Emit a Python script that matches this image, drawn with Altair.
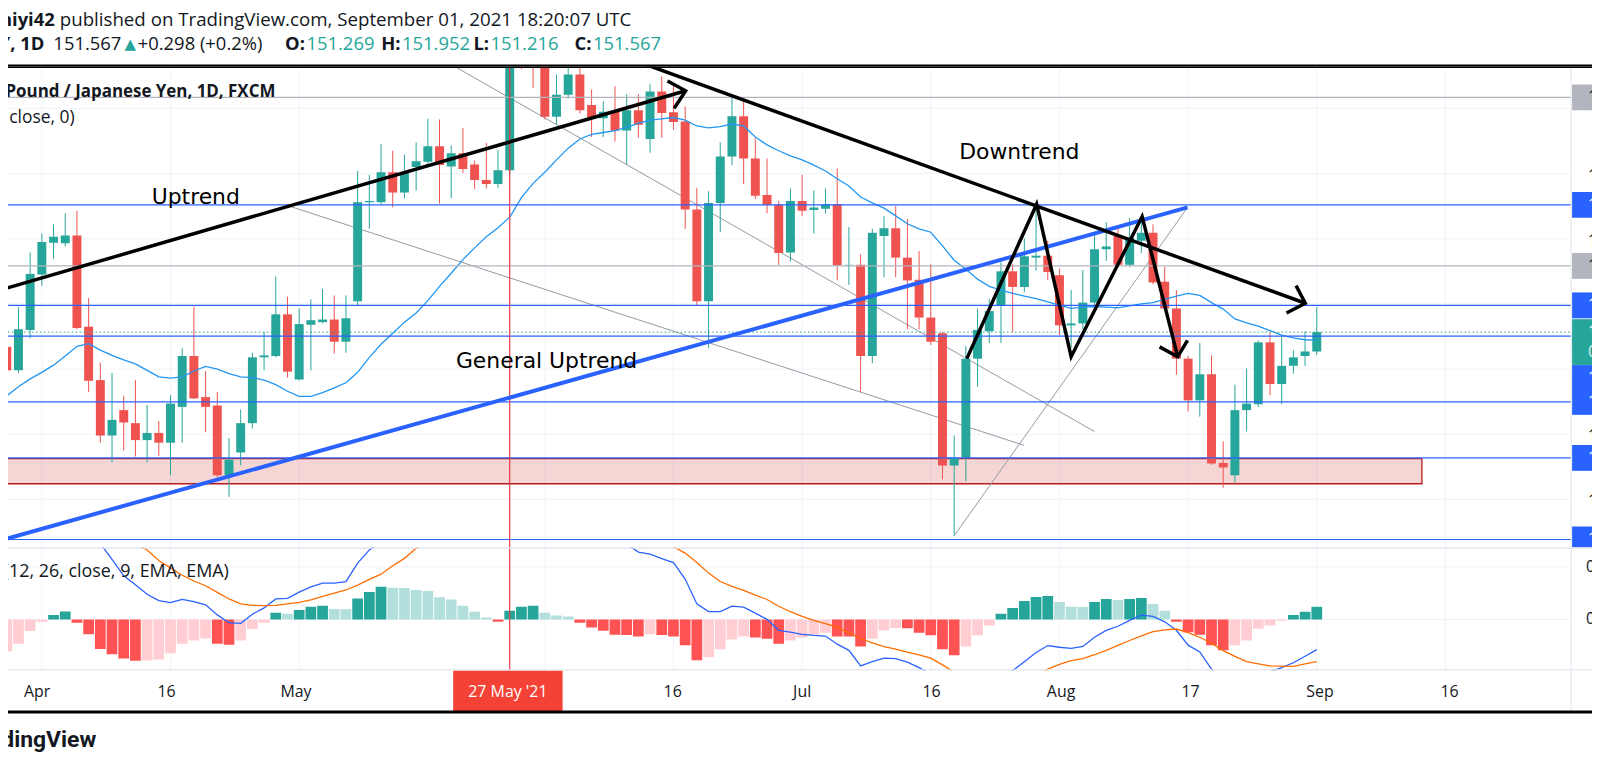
import altair as alt
import numpy as np
import pandas as pd

# ---------------- data ----------------
first_bar = -3          # bar position of 29 Mar 2021 (0 = 1 Apr 2021), trading days only
opens = [151.34, 150.98, 151.60, 152.45, 152.94, 152.93, 153.05, 151.65, 150.83, 149.98,
         150.37, 150.17, 149.91, 150.02, 149.87, 150.42, 151.20, 150.57, 150.44, 149.37,
         149.72, 150.17, 151.18, 151.20, 151.84, 150.84, 151.68, 151.72, 151.76, 151.42,
         152.04, 153.56, 153.56, 154.02, 153.71, 154.10, 154.18, 154.42, 154.11, 154.31,
         154.14, 153.90, 153.84, 154.05, 156.10, 155.90, 155.90, 154.87, 155.21, 155.52,
         155.05, 154.85, 154.95, 154.66, 154.97, 154.53, 155.26, 154.94, 154.80, 153.45,
         152.04, 153.55, 154.26, 154.88, 154.23, 153.67, 153.52, 152.79, 153.58, 153.44,
         153.46, 153.53, 152.59, 152.60, 151.20, 153.04, 153.16, 152.71, 152.37, 151.79,
         151.55, 149.52, 149.64, 151.16, 151.58, 151.98, 152.50, 152.26, 152.71, 152.74,
         152.44, 151.67, 151.70, 152.02, 152.84, 153.04, 152.60, 152.97, 153.09, 152.34,
         151.93, 151.16, 150.52, 150.92, 149.56, 149.37, 150.37, 150.46, 151.41, 150.77,
         151.05, 151.20, 151.269]
highs = [151.82, 151.95, 152.79, 153.08, 153.22, 153.39, 153.43, 152.09, 151.10, 150.94,
         150.59, 150.83, 150.45, 150.20, 150.60, 151.32, 151.96, 150.97, 150.65, 149.94,
         150.38, 151.25, 151.57, 152.42, 152.11, 151.93, 152.07, 152.23, 152.13, 152.13,
         154.04, 153.98, 154.45, 154.35, 154.29, 154.48, 154.84, 154.83, 154.43, 154.70,
         154.20, 154.47, 154.36, 156.00, 156.30, 156.00, 156.07, 155.52, 155.64, 155.70,
         155.29, 155.11, 155.34, 155.22, 155.22, 155.37, 155.49, 155.34, 155.03, 153.78,
         153.73, 154.48, 155.16, 155.15, 154.54, 154.23, 153.58, 153.77, 153.98, 153.74,
         153.77, 154.08, 153.18, 152.76, 153.15, 153.35, 153.50, 153.30, 152.81, 152.61,
         151.57, 149.98, 151.35, 151.93, 152.08, 152.64, 152.61, 153.00, 153.43, 152.97,
         152.54, 152.21, 152.52, 153.06, 153.25, 153.17, 153.32, 153.37, 153.22, 152.57,
         152.21, 151.20, 151.40, 151.21, 149.89, 150.76, 151.01, 151.44, 151.57, 151.49,
         151.29, 151.58, 151.952]
lows = [150.58, 150.94, 151.47, 152.28, 152.69, 152.88, 151.61, 150.65, 149.87, 149.57,
        149.75, 149.66, 149.57, 149.67, 149.37, 149.87, 150.54, 150.03, 149.34, 149.04,
        149.52, 150.09, 150.98, 151.18, 150.87, 150.83, 150.98, 151.70, 151.24, 151.25,
        151.97, 153.15, 153.53, 153.48, 153.62, 153.74, 154.15, 153.54, 153.62, 154.01,
        153.76, 153.77, 153.78, 153.98, 155.60, 155.31, 154.83, 154.75, 155.15, 154.92,
        154.56, 154.56, 154.49, 154.14, 154.55, 154.32, 154.55, 154.67, 153.15, 151.98,
        151.32, 153.10, 154.13, 153.84, 153.61, 153.39, 152.60, 152.65, 153.35, 153.08,
        153.39, 152.36, 152.29, 150.65, 151.09, 152.41, 152.41, 151.61, 151.61, 151.37,
        149.31, 148.44, 149.28, 150.73, 151.40, 151.40, 151.57, 152.18, 152.51, 152.37,
        151.52, 151.33, 151.61, 151.95, 152.66, 152.57, 152.57, 152.78, 152.30, 151.90,
        150.91, 150.35, 150.27, 149.53, 149.18, 149.26, 150.04, 150.42, 150.60, 150.46,
        150.93, 151.05, 151.216]
closes = [150.98, 151.61, 152.46, 152.95, 153.03, 153.05, 151.63, 150.82, 149.98, 150.22,
          150.18, 149.91, 150.02, 149.87, 150.47, 151.20, 150.55, 150.42, 149.37, 149.61,
          150.17, 151.18, 151.21, 151.84, 150.96, 151.69, 151.75, 151.76, 151.42, 151.78,
          153.56, 153.58, 154.02, 153.71, 154.02, 154.19, 154.42, 154.13, 154.31, 154.07,
          153.90, 153.84, 154.05, 155.80, 155.68, 155.75, 154.87, 155.21, 155.52, 154.97,
          154.86, 154.95, 154.66, 154.97, 154.75, 155.26, 154.93, 154.79, 153.45, 152.04,
          153.55, 154.26, 154.88, 154.23, 153.66, 153.52, 152.78, 153.58, 153.43, 153.48,
          153.53, 152.59, 152.60, 151.20, 153.09, 153.16, 152.71, 152.36, 151.79, 151.42,
          149.52, 149.64, 151.16, 151.60, 151.89, 152.50, 152.26, 152.73, 152.74, 152.49,
          151.67, 151.70, 152.02, 152.84, 152.88, 152.60, 153.02, 153.09, 152.33, 151.93,
          151.16, 150.52, 150.92, 149.55, 149.49, 150.37, 150.47, 151.41, 150.77, 151.05,
          151.18, 151.27, 151.567]
ma20 = [150.59, 150.73, 150.85, 150.95, 151.06, 151.20, 151.35, 151.39, 151.29, 151.21,
        151.14, 151.08, 150.98, 150.88, 150.86, 150.88, 150.97, 151.04, 151.00, 150.93,
        150.88, 150.87, 150.83, 150.76, 150.66, 150.58, 150.58, 150.64, 150.71, 150.79,
        150.95, 151.18, 151.38, 151.55, 151.72, 151.86, 152.05, 152.27, 152.47, 152.68,
        152.86, 153.03, 153.17, 153.33, 153.63, 153.85, 154.02, 154.21, 154.39, 154.53,
        154.60, 154.63, 154.66, 154.71, 154.77, 154.82, 154.84, 154.86, 154.82, 154.73,
        154.70, 154.72, 154.76, 154.73, 154.56, 154.44, 154.35, 154.27, 154.21, 154.13,
        154.04, 153.92, 153.81, 153.64, 153.55, 153.47, 153.35, 153.23, 153.15, 153.10,
        152.89, 152.67, 152.53, 152.38, 152.27, 152.21, 152.16, 152.12, 152.08, 152.03,
        151.98, 151.93, 151.95, 151.96, 151.95, 151.94, 151.97, 152.00, 152.02, 152.07,
        152.12, 152.16, 152.13, 152.02, 151.92, 151.77, 151.71, 151.66, 151.59, 151.52,
        151.48, 151.45, 151.44]
macd_line = [1.05, 1.00, 1.02, 1.06, 1.10, 1.12, 1.02, 0.90, 0.72, 0.57,
             0.415, 0.33, 0.24, 0.18, 0.16, 0.19, 0.17, 0.14, 0.044, -0.03,
             -0.036, 0.05, 0.11, 0.195, 0.20, 0.26, 0.31, 0.345, 0.345, 0.36,
             0.535, 0.66, 0.74, 0.81, 0.88, 0.955, 1.02, 1.03, 1.06, 1.04,
             1.00, 0.96, 0.92, 1.03, 1.09, 1.12, 1.06, 1.04, 1.03, 0.96,
             0.895, 0.833, 0.756, 0.714, 0.64, 0.62, 0.577, 0.54, 0.384, 0.148,
             0.075, 0.075, 0.126, 0.117, 0.06, 0.002, -0.102, -0.119, -0.14, -0.15,
             -0.157, -0.234, -0.292, -0.44, -0.40, -0.366, -0.371, -0.404, -0.456, -0.52,
             -0.713, -0.84, -0.805, -0.72, -0.647, -0.546, -0.485, -0.40, -0.312, -0.247,
             -0.263, -0.273, -0.255, -0.168, -0.103, -0.064, -0.008, 0.042, 0.03, -0.022,
             -0.102, -0.243, -0.308, -0.47, -0.587, -0.594, -0.598, -0.508, -0.497, -0.456,
             -0.41, -0.348, -0.286]
signal_line = [1.35, 1.23, 1.13, 1.08, 1.056, 1.045, 1.05, 1.04, 1.00, 0.90,
               0.785, 0.72, 0.66, 0.56, 0.49, 0.42, 0.365, 0.32, 0.257, 0.195,
               0.148, 0.134, 0.132, 0.134, 0.148, 0.162, 0.186, 0.219, 0.25, 0.28,
               0.327, 0.38, 0.43, 0.51, 0.58, 0.675, 0.75, 0.82, 0.87, 0.91,
               0.93, 0.94, 0.94, 0.95, 0.97, 0.99, 1.00, 1.00, 1.00, 0.99,
               0.97, 0.94, 0.90, 0.86, 0.80, 0.76, 0.72, 0.69, 0.63, 0.54,
               0.44, 0.36, 0.315, 0.277, 0.232, 0.19, 0.126, 0.074, 0.03, -0.008,
               -0.038, -0.075, -0.127, -0.18, -0.221, -0.258, -0.28, -0.31, -0.335, -0.366,
               -0.43, -0.50, -0.55, -0.57, -0.59, -0.60, -0.595, -0.575, -0.53, -0.471,
               -0.425, -0.39, -0.37, -0.334, -0.292, -0.246, -0.199, -0.156, -0.115, -0.099,
               -0.09, -0.124, -0.168, -0.225, -0.295, -0.349, -0.40, -0.42, -0.44, -0.442,
               -0.444, -0.42, -0.40]
histogram = [-0.30, -0.23, -0.11, -0.02, 0.044, 0.075, -0.03, -0.14, -0.28, -0.33,
             -0.37, -0.392, -0.388, -0.38, -0.32, -0.23, -0.20, -0.18, -0.23, -0.24,
             -0.20, -0.09, -0.03, 0.063, 0.054, 0.09, 0.12, 0.13, 0.10, 0.098,
             0.20, 0.26, 0.31, 0.302, 0.298, 0.28, 0.27, 0.21, 0.19, 0.13,
             0.073, 0.02, -0.02, 0.082, 0.12, 0.13, 0.063, 0.038, 0.028, -0.031,
             -0.075, -0.107, -0.144, -0.146, -0.16, -0.140, -0.146, -0.16, -0.245, -0.387,
             -0.358, -0.283, -0.189, -0.16, -0.17, -0.182, -0.229, -0.198, -0.17, -0.144,
             -0.125, -0.16, -0.162, -0.255, -0.182, -0.104, -0.081, -0.083, -0.125, -0.15,
             -0.283, -0.34, -0.255, -0.15, -0.057, 0.054, 0.11, 0.176, 0.214, 0.224,
             0.167, 0.12, 0.118, 0.167, 0.195, 0.186, 0.195, 0.205, 0.148, 0.082,
             -0.022, -0.12, -0.144, -0.245, -0.292, -0.245, -0.198, -0.088, -0.057, -0.012,
             0.044, 0.073, 0.12]

grid_pos = [0, 11, 22, 43, 54, 65, 76, 87, 98, 109, 120]
tick_pos = [0, 11, 22, 54, 65, 76, 87, 98, 109, 120]
tick_text = ["Apr", "16", "May", "16", "Jul", "16", "Aug", "17", "Sep", "16"]
price_ticks = [149, 150, 151, 152, 153, 154, 155]
price_tick_labels = [149, 150, 153, 154, 155]      # 151 and 152 sit under the level boxes
blue_levels = [153.519, 151.977, 151.504, 150.496, 149.637, 148.385]
gray_levels = [155.168, 152.583]
zone_bars = [-6.0, 117.99]
zone_prices = [149.240, 149.626]
last_close = 151.567
highlight_bar = 40   # 27 May '21

black_drawings = {
    "uptrend": [(-4.0, 152.19), (55.04, 155.27)],
    "uptrend_arrow": [(53.49, 155.42), (55.04, 155.27), (54.06, 155.0)],
    "downtrend": [(50.9, 155.72), (108.02, 152.01)],
    "downtrend_arrow": [(107.23, 152.28), (108.02, 152.01), (106.41, 151.86)],
    "zigzag": [(79.08, 151.16), (85.05, 153.53), (88.0, 151.19), (94.07, 153.34), (97.11, 151.19)],
    "zigzag_arrow": [(95.56, 151.34), (97.11, 151.19), (97.95, 151.44)],
}
blue_drawings = {"general": [(-4.0, 148.347), (97.95, 153.48)]}
gray_drawings = {
    "a": [(34.56, 155.718), (89.98, 150.043)],
    "b": [(21.09, 153.504), (83.98, 149.829)],
    "c": [(78.03, 148.45), (97.95, 153.48)],
}
notes_bar = [9.39, 78.43, 35.40]
notes_price = [153.53, 154.226, 151.015]
notes_text = ["Uptrend", "Downtrend", "General Uptrend"]

# ---------------- styling / layout ----------------
UP, DOWN = "#26a69a", "#ef5350"
BLUE = "#2962ff"
GRAYLINE = "#b2b5be"
TEXT = "#131722"
GRID = "#f0f3fa"
BORDER = "#e0e3eb"
W = 1592
PLOT_R = 1571
H_HEAD, H_MAIN, H_MACD, H_FOOT = 57, 483, 124, 89
XDOM = [-2.468, 132.105]
PDOM = [148.267, 155.641]
MDOM = [-0.484, 0.686]
HEAD_FS = 18.5

xs = alt.Scale(domain=XDOM, nice=False, zero=False)
ps = alt.Scale(domain=PDOM, nice=False, zero=False)
ms = alt.Scale(domain=MDOM, nice=False, zero=False)


def X(f="i"):
    return alt.X(f"{f}:Q", scale=xs, axis=None)


def P(f="p"):
    return alt.Y(f"{f}:Q", scale=ps, axis=None)


def M(f="v"):
    return alt.Y(f"{f}:Q", scale=ms, axis=None)


one = pd.DataFrame({"k": [0]})


def label(text, x, y, size=HEAD_FS, weight="normal", color=TEXT, align="left",
          font="Open Sans", baseline="middle"):
    return alt.Chart(one).mark_text(
        fontSize=size, fontWeight=weight, color=color, align=align,
        font=font, baseline=baseline, clip=True
    ).encode(x=alt.value(x), y=alt.value(y), text=alt.value(text))


def hline(y, x0, x1, color, width):
    return alt.Chart(one).mark_rule(color=color, strokeWidth=width, clip=True,
                                    strokeCap="butt").encode(
        x=alt.value(x0), x2=alt.value(x1), y=alt.value(y))


def vline(x, y0, y1, color, width):
    return alt.Chart(one).mark_rule(color=color, strokeWidth=width, clip=True,
                                    strokeCap="butt").encode(
        x=alt.value(x), y=alt.value(y0), y2=alt.value(y1))


def lines_df(d):
    rows = []
    for name, pts in d.items():
        for o, (i, p) in enumerate(pts):
            rows.append({"name": name, "o": o, "i": i, "p": p})
    return pd.DataFrame(rows)


n = len(opens)
bars = pd.DataFrame({
    "i": list(range(first_bar, first_bar + n)),
    "o": opens, "h": highs, "l": lows, "c": closes, "ma": ma20,
    "macd": macd_line, "sig": signal_line, "hist": histogram,
})
bars["col"] = np.where(bars["c"] >= bars["o"], UP, DOWN)
prev = bars["hist"].shift(1).fillna(bars["hist"].iloc[0] - 1)
bars["hc"] = [
    (UP if h > p else "#b2dfdb") if h >= 0 else ("#ffcdd2" if h > p else "#ff5252")
    for h, p in zip(bars["hist"], prev)
]
bars["z"] = 0.0

# ---------------- header ----------------
y1, y2 = 10.3, 34.7
header = alt.layer(
    label("niyi42", 47, y1, size=18.5, weight="bold", align="right"),
    label("published on TradingView.com, September 01, 2021 18:20:07 UTC", 52, y1, size=18.8),
    label("GBPJPY, 1D", 36.6, y2, weight="bold", align="right"),
    label("151.567", 45.6, y2),
    label("\u25b2", 117, y2, size=15, color=UP, font="DejaVu Sans"),
    label("+0.298 (+0.2%)", 130.4, y2),
    label("O:", 298.5, y2, weight="bold", align="right"),
    label("151.269", 300, y2, color=UP),
    label("H:", 394.5, y2, weight="bold", align="right"),
    label("151.952", 396, y2, color=UP),
    label("L:", 483.5, y2, weight="bold", align="right"),
    label("151.216", 485, y2, color=UP),
    label("C:", 586.5, y2, weight="bold", align="right"),
    label("151.567", 588, y2, color=UP),
    hline(56.5, 0, W, "#000000", 3),
).properties(width=W, height=H_HEAD)

# ---------------- main price pane ----------------
vgrid_main = alt.Chart(pd.DataFrame({"i": grid_pos})).mark_rule(color=GRID, clip=True).encode(
    x=X(), y=alt.value(0), y2=alt.value(H_MAIN))
hgrid_main = alt.Chart(pd.DataFrame({"p": price_ticks})).mark_rule(color=GRID, clip=True).encode(
    y=P(), x=alt.value(0), x2=alt.value(PLOT_R))
zone = alt.Chart(pd.DataFrame({"i0": [zone_bars[0]], "i1": [zone_bars[1]],
                               "p0": [zone_prices[0]], "p1": [zone_prices[1]]})).mark_rect(
    fill="#d32f2f", fillOpacity=0.2, stroke="#b71c1c", strokeWidth=1.3, clip=True).encode(
    x=X("i0"), x2="i1:Q", y=P("p0"), y2="p1:Q")
gray_lines = alt.Chart(lines_df(gray_drawings)).mark_line(
    color="#9598a1", strokeWidth=1, clip=True).encode(
    x=X(), y=P(), detail="name:N", order="o:Q")
ma_line = alt.Chart(bars).mark_line(color="#2196f3", strokeWidth=1.3, clip=True).encode(
    x=X(), y=P("ma"))
wicks = alt.Chart(bars).mark_rule(strokeWidth=1, clip=True).encode(
    x=X(), y=P("l"), y2="h:Q", color=alt.Color("col:N", scale=None))
bodies = alt.Chart(bars).mark_bar(size=9, clip=True).encode(
    x=X(), y=P("o"), y2="c:Q", color=alt.Color("col:N", scale=None))
level_df = pd.DataFrame({"p": blue_levels + gray_levels,
                         "c": [BLUE] * len(blue_levels) + [GRAYLINE] * len(gray_levels)})
levels = alt.Chart(level_df).mark_rule(strokeWidth=1.2, clip=True).encode(
    y=P(), x=alt.value(0), x2=alt.value(PLOT_R), color=alt.Color("c:N", scale=None))
price_line = alt.Chart(pd.DataFrame({"p": [last_close]})).mark_rule(
    color=UP, strokeDash=[1.5, 2.5], strokeWidth=1, clip=True).encode(
    y=P(), x=alt.value(0), x2=alt.value(PLOT_R))
red_v_main = alt.Chart(pd.DataFrame({"i": [highlight_bar]})).mark_rule(
    color="#f23645", strokeWidth=1.2, clip=True).encode(
    x=X(), y=alt.value(0), y2=alt.value(H_MAIN))
blue_thick = alt.Chart(lines_df(blue_drawings)).mark_line(
    color=BLUE, strokeWidth=4, clip=True).encode(
    x=X(), y=P(), detail="name:N", order="o:Q")
black_lines = alt.Chart(lines_df(black_drawings)).mark_line(
    color="#000000", strokeWidth=3.5, clip=True, strokeJoin="miter", strokeCap="butt").encode(
    x=X(), y=P(), detail="name:N", order="o:Q")
notes = alt.Chart(pd.DataFrame({"i": notes_bar, "p": notes_price, "t": notes_text})).mark_text(
    font="DejaVu Sans", fontSize=22, color="#000000", align="left",
    baseline="alphabetic", clip=True).encode(x=X(), y=P(), text="t:N")

box_df = pd.DataFrame({
    "p": [155.168, 153.519, 152.583, 151.977, 151.567, 150.496, 149.637, 148.385],
    "c": [GRAYLINE, BLUE, GRAYLINE, BLUE, UP, BLUE, BLUE, BLUE],
    "tc": [TEXT, "#ffffff", TEXT, "#ffffff", "#ffffff", "#ffffff", "#ffffff", "#ffffff"],
    "t": ["155.168", "153.519", "152.583", "151.977", "151.567", "150.496", "149.637", "148.385"],
})
extra_df = pd.DataFrame({"p": [151.567, 151.504], "c": [UP, BLUE],
                         "tc": ["#d7efec", "#ffffff"], "t": ["05:39:53", "151.504"]})


def boxes(df, off=0):
    r = alt.Chart(df).mark_rule(strokeWidth=26, strokeCap="butt", clip=True, yOffset=off).encode(
        y=P(), x=alt.value(PLOT_R + 1), x2=alt.value(W), color=alt.Color("c:N", scale=None))
    t = alt.Chart(df).mark_text(font="Open Sans", fontSize=16, align="left", baseline="middle",
                                clip=True, yOffset=off).encode(
        y=P(), x=alt.value(1588), text="t:N", color=alt.Color("tc:N", scale=None))
    return [r, t]


tick_labels = alt.Chart(pd.DataFrame({"p": price_tick_labels,
                                      "t": [f"{v:.3f}" for v in price_tick_labels]})).mark_text(
    font="Open Sans", fontSize=16, align="left", baseline="middle", color=TEXT, clip=True).encode(
    y=P(), x=alt.value(1588), yOffset=alt.value(2), text="t:N")

main = alt.layer(
    vgrid_main, hgrid_main, zone, gray_lines, wicks, bodies, ma_line, levels, price_line,
    red_v_main, blue_thick, black_lines, notes,
    label("British Pound / Japanese Yen, 1D, FXCM", 268.7, 25.7, size=17, weight="bold",
          align="right"),
    label("MA (20, close, 0)", 67, 51.7, size=17.5, align="right"),
    vline(PLOT_R, 0, H_MAIN, BORDER, 1),
    tick_labels,
    *boxes(box_df),
    *boxes(extra_df.iloc[[0]], 20),
    *boxes(extra_df.iloc[[1]], 42),
    hline(0.5, 0, W, "#000000", 2),
).properties(width=W, height=H_MAIN)

# ---------------- MACD pane ----------------
vgrid_macd = alt.Chart(pd.DataFrame({"i": grid_pos})).mark_rule(color=GRID, clip=True).encode(
    x=X(), y=alt.value(0), y2=alt.value(H_MACD))
hgrid_macd = alt.Chart(pd.DataFrame({"v": [0.5, 0.0]})).mark_rule(color=GRID, clip=True).encode(
    y=M(), x=alt.value(0), x2=alt.value(PLOT_R))
hist_bars = alt.Chart(bars).mark_bar(size=10.8, clip=True).encode(
    x=X(), y=M("z"), y2="hist:Q", color=alt.Color("hc:N", scale=None))
macd_l = alt.Chart(bars).mark_line(color=BLUE, strokeWidth=1.3, clip=True).encode(x=X(), y=M("macd"))
sig_l = alt.Chart(bars).mark_line(color="#ff6d00", strokeWidth=1.3, clip=True).encode(x=X(), y=M("sig"))
red_v_macd = alt.Chart(pd.DataFrame({"i": [highlight_bar]})).mark_rule(
    color="#f23645", strokeWidth=1.2, clip=True).encode(
    x=X(), y=alt.value(0), y2=alt.value(H_MACD))
macd_ticks = alt.Chart(pd.DataFrame({"v": [0.5, 0.0], "t": ["0.5000", "0.0000"]})).mark_text(
    font="Open Sans", fontSize=16, align="left", baseline="middle", color=TEXT, clip=True).encode(
    y=M(), x=alt.value(1586), text="t:N")

macd = alt.layer(
    vgrid_macd, hgrid_macd, hist_bars, macd_l, sig_l, red_v_macd,
    label("MACD (12, 26, close, 9, EMA, EMA)", 222, 25.3, size=18, align="right"),
    hline(0.75, 0, W, BORDER, 1.5),
    hline(123.5, 0, W, BORDER, 1.5),
    vline(PLOT_R, 0, H_MACD, BORDER, 1),
    macd_ticks,
).properties(width=W, height=H_MACD)

# ---------------- footer (time axis) ----------------
xlabels = alt.Chart(pd.DataFrame({"i": tick_pos, "t": tick_text})).mark_text(
    font="Open Sans", fontSize=16, color=TEXT, align="center", baseline="middle", clip=True).encode(
    x=X(), y=alt.value(21.3), text="t:N")
red_box = alt.Chart(pd.DataFrame({"i": [highlight_bar]})).mark_rule(
    color="#f44336", strokeWidth=110, strokeCap="butt", clip=True).encode(
    x=X(), y=alt.value(0), y2=alt.value(41))
red_text = alt.Chart(pd.DataFrame({"i": [highlight_bar], "t": ["27 May '21"]})).mark_text(
    font="Open Sans", fontSize=16, color="#ffffff", align="center", baseline="middle", clip=True).encode(
    x=X(), y=alt.value(21.3), text="t:N")

footer = alt.layer(
    xlabels, red_box, red_text,
    vline(PLOT_R, 0, 41, BORDER, 1),
    hline(41.7, 0, W, "#000000", 3),
    label("TradingView", 88.7, 69.7, size=23, weight="bold", align="right", font="Roboto"),
).properties(width=W, height=H_FOOT)

chart = alt.vconcat(header, main, macd, footer, spacing=0, bounds="flush").resolve_scale(
    x="independent", y="independent"
).properties(padding=0, background="white").configure_view(stroke=None)

chart.save("out.html", embed_options={"renderer": "svg", "actions": False})
